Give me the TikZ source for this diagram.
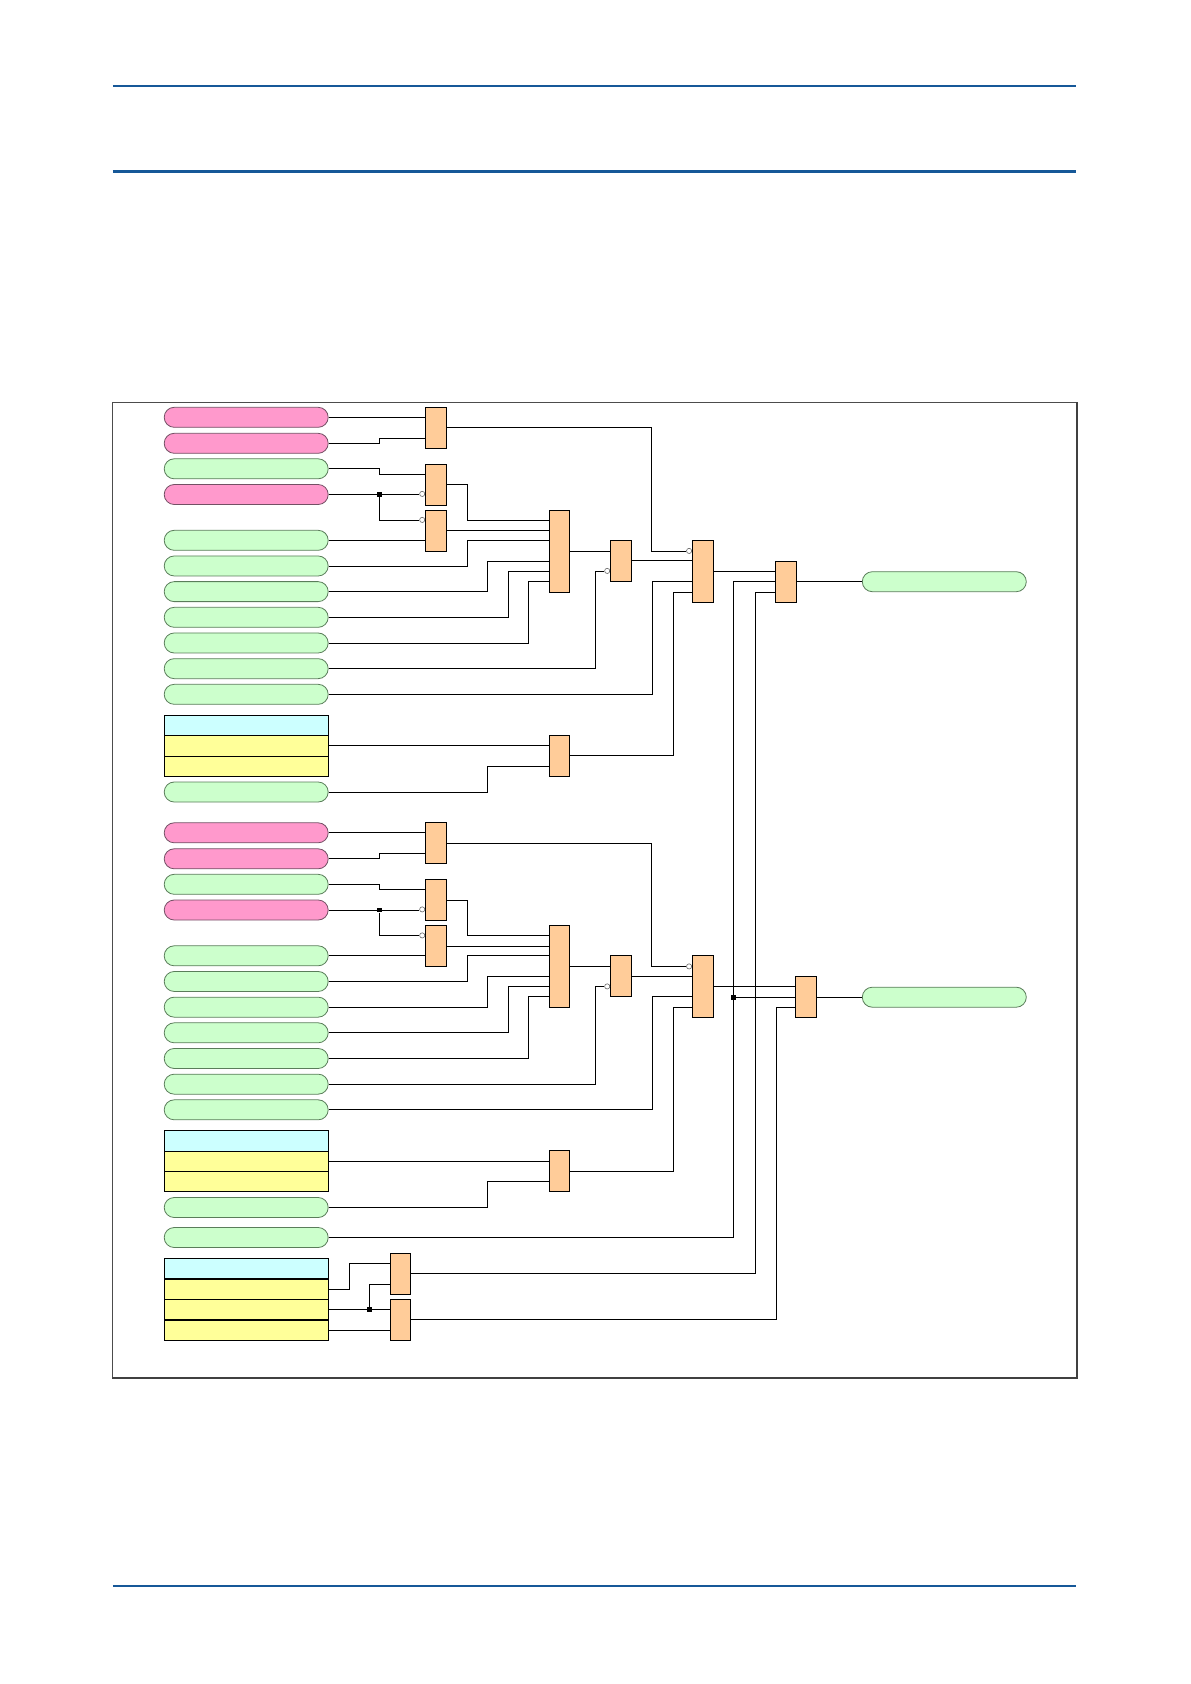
\documentclass[tikz,border=0pt]{standalone}
\usetikzlibrary{calc}
\usetikzlibrary{positioning}

\definecolor{pinkfill}{RGB}{255,153,204}
\definecolor{greenfill}{RGB}{204,255,204}
\definecolor{gatefill}{RGB}{255,204,153}
\definecolor{cyanfill}{RGB}{204,255,255}
\definecolor{yellowfill}{RGB}{255,255,153}
\definecolor{pinkedge}{RGB}{115,80,100}
\definecolor{greenedge}{RGB}{90,125,90}
\definecolor{rulebl}{RGB}{22,88,152}

\tikzset{
  pill/.style={rounded corners=10pt, minimum width=164pt, minimum height=20pt, inner sep=0pt, line width=0.8pt},
  pinkpill/.style={pill, fill=pinkfill, draw=pinkedge},
  greenpill/.style={pill, fill=greenfill, draw=greenedge},
  cell/.style={draw, minimum width=164pt, minimum height=20.4pt, inner sep=0pt, line width=0.8pt},
  gate/.style={draw, fill=gatefill, minimum width=21pt, inner sep=0pt, line width=0.8pt},
  wire/.style={line width=0.8pt},
  notpin/.style={circle, draw=black!60, fill=white, minimum size=5.2pt, inner sep=0pt, line width=0.6pt, anchor=east},
  joint/.style={rectangle, fill=black, minimum size=4.8pt, inner sep=0pt}
}

\begin{document}
\begin{tikzpicture}[x=1pt,y=-1pt]
\useasboundingbox (0,0) rectangle (1191,1684);

% page rules
\draw[rulebl, line width=2pt] (112.8,85.7) -- (1076.4,85.7);
\draw[rulebl, line width=3pt] (112.8,171) -- (1076.4,171);
\draw[rulebl, line width=2pt] (112.8,1585.7) -- (1076.4,1585.7);

% frame
\draw[black!70, line width=1pt] (112.3,402.3) rectangle (1077,1378.3);
\draw[black!75, line width=2.2pt] (112.3,1378.3) -- (1077,1378.3) -- (1077,402.3);

% two identical blocks
\foreach \s/\dy/\fx in {a/0/785.6, b/415.5/806}{
  % inputs
  \node[pinkpill]  (r1\s) at (246.2,{417.3+\dy}) {};
  \node[pinkpill]  (r2\s) at (246.2,{443.3+\dy}) {};
  \node[greenpill] (r3\s) at (246.2,{468.8+\dy}) {};
  \node[pinkpill]  (r4\s) at (246.2,{494.5+\dy}) {};
  \foreach \i [evaluate=\i as \y using 540.3+25.67*(\i-5)+\dy] in {5,...,11}
    \node[greenpill] (r\i\s) at (246.2,\y) {};
  \node[cell, fill=cyanfill]   (t0\s) at (246.2,{725.5+\dy}) {};
  \node[cell, fill=yellowfill] (t1\s) at (246.2,{745.8+\dy}) {};
  \node[cell, fill=yellowfill] (t2\s) at (246.2,{766.1+\dy}) {};
  \node[greenpill] (r12\s) at (246.2,{792+\dy}) {};

  % gates
  \node[gate, minimum height=41pt] (g1\s) at (436,{427.8+\dy}) {};
  \node[gate, minimum height=41pt] (g2\s) at (436,{484.8+\dy}) {};
  \node[gate, minimum height=41pt] (g3\s) at (436,{530.8+\dy}) {};
  \node[gate, minimum width=20pt, minimum height=82pt] (g4\s) at (559.4,{551.3+\dy}) {};
  \node[gate, minimum height=41pt] (g5\s) at (621,{560.8+\dy}) {};
  \node[gate, minimum height=62pt] (g6\s) at (702.9,{571.3+\dy}) {};
  \node[gate, minimum width=20pt, minimum height=41pt] (g7\s) at (559.5,{755.8+\dy}) {};
  \node[gate, minimum height=41pt] (f\s) at (\fx,{581.8+\dy}) {};
  \node[greenpill] (o\s) at (944.3,{581.7+\dy}) {};

  % inverted inputs
  \node[notpin] (n1\s) at ($(g2\s.north west)+(0,30)$) {};
  \node[notpin] (n2\s) at ($(g3\s.north west)+(0,10)$) {};
  \node[notpin] (n3\s) at ($(g5\s.north west)+(0,31)$) {};
  \node[notpin] (n4\s) at ($(g6\s.north west)+(0,11)$) {};

  % wiring
  \draw[wire] (r1\s.east) -- (r1\s.east -| g1\s.west);
  \draw[wire] (r2\s.east) -- ++(51.1,0) |- ($(g1\s.north west)+(0,31)$);
  \draw[wire] (r3\s.east) -- ++(51.1,0) |- ($(g2\s.north west)+(0,10)$);
  \draw[wire] (r4\s.east) -- (r4\s.east -| n1\s.west);
  \node[joint] (j1\s) at ([xshift=51.1pt]r4\s.east) {};
  \draw[wire] (j1\s) |- (n2\s.west);
  \draw[wire] (r5\s.east) -- (r5\s.east -| g3\s.west);
  \draw[wire] (g2\s.east) -- ++(20.6,0) |- ($(g4\s.north west)+(0,10)$);
  \draw[wire] (g3\s.east) -- (g3\s.east -| g4\s.west);
  \draw[wire] (r6\s.east) -- ++(139.1,0) |- ($(g4\s.north west)+(0,30)$);
  \draw[wire] (r7\s.east) -- ++(159.1,0) |- ($(g4\s.north west)+(0,51.4)$);
  \draw[wire] (r8\s.east) -- ++(180.1,0) |- ($(g4\s.north west)+(0,61.4)$);
  \draw[wire] (r9\s.east) -- ++(200.1,0) |- ($(g4\s.north west)+(0,71)$);
  \draw[wire] (g4\s.east) -- (g4\s.east -| g5\s.west);
  \draw[wire] (r10\s.east) -- ++(267.1,0) |- (n3\s.west);
  \draw[wire] (g5\s.east) -- (g5\s.east -| g6\s.west);
  \draw[wire] (g1\s.east) -- ++(204.8,0) |- (n4\s.west);
  \draw[wire] (r11\s.east) -- ++(323.3,0) |- ($(g6\s.north west)+(0,41)$);
  \draw[wire] (t1\s.east) -- (t1\s.east -| g7\s.west);
  \draw[wire] (r12\s.east) -- ++(159.1,0) |- ($(g7\s.north west)+(0,31)$);
  \draw[wire] (g7\s.east) -- ++(103,0) |- ($(g6\s.north west)+(0,52)$);
  \draw[wire] (g6\s.east) -- (g6\s.east -| f\s.west);
  \draw[wire] (f\s.east) -- (f\s.east -| o\s.west);
}

% shared inputs at the bottom
\node[greenpill] (r13) at (246.2,1237.5) {};
\node[cell, fill=cyanfill]   (c0) at (246.2,1268.6) {};
\node[cell, fill=yellowfill] (c1) at (246.2,1289.1) {};
\node[cell, fill=yellowfill] (c2) at (246.2,1309.6) {};
\node[cell, fill=yellowfill] (c3) at (246.2,1330.1) {};
\node[gate, minimum width=20pt, minimum height=41pt] (ga) at (400.6,1273.8) {};
\node[gate, minimum width=20pt, minimum height=41pt] (gb) at (400.6,1319.8) {};

\draw[wire] (c1.east) -- ++(20.5,0) |- ($(ga.north west)+(0,10)$);
\draw[wire] (c2.east) -- (c2.east -| gb.west);
\node[joint] (j3) at ([xshift=41pt]c2.east) {};
\draw[wire] (j3) |- ($(ga.north west)+(0,31)$);
\draw[wire] (c3.east) -- (c3.east -| gb.west);
\draw[wire] (ga.east) -- ++(343.9,0) |- ($(fa.north west)+(0,31)$);
\draw[wire] (gb.east) -- ++(364.9,0) |- ($(fb.north west)+(0,31)$);
\draw[wire] (r13.east) -- ++(405.2,0) |- ($(fa.north west)+(0,20)$);
\coordinate (k4) at ([xshift=405.2pt]r13.east);
\node[joint] (j4) at (k4 |- fb.west) {};
\draw[wire] (j4) -- (j4 -| fb.west);
\end{tikzpicture}
\end{document}
